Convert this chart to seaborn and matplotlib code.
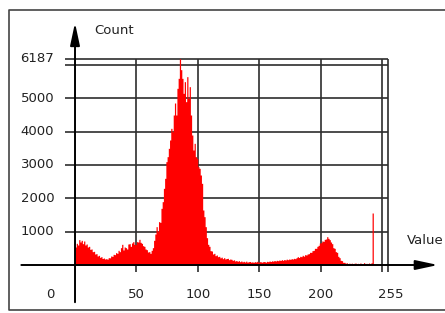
import numpy as np
import matplotlib
matplotlib.use("Agg")
import matplotlib.pyplot as plt
import seaborn as sns

sns.set_theme(style="white")
plt.rcParams['font.family'] = ['DejaVu Sans']

# histogram counts for grey values 0..255
counts = [
    540, 650, 600, 760, 690, 740, 640, 720, 600, 630, 540, 560, 470, 480, 400, 410,
    330, 340, 270, 290, 230, 250, 195, 210, 180, 190, 175, 220, 215, 270, 260, 320,
    310, 370, 350, 440, 400, 520, 620, 450, 540, 520, 480, 630, 640, 560, 660, 700,
    620, 610, 700, 690, 770, 680, 650, 580, 560, 480, 460, 390, 400, 350, 440, 520,
    740, 930, 1150, 1020, 1300, 1280, 1700, 1900, 2300, 2600, 3100, 3250, 3500, 3750, 4100, 4000,
    4500, 4860, 4500, 5300, 5600, 6187, 5860, 5600, 5150, 5500, 4900, 5650, 5000, 5350, 4500, 3900,
    3450, 3650, 3250, 3200, 2950, 2900, 2700, 2450, 1650, 1450, 1150, 820, 620, 560, 430, 420,
    330, 350, 280, 300, 250, 260, 215, 235, 190, 220, 180, 195, 200, 160, 180, 170,
    140, 155, 120, 135, 110, 130, 100, 120, 95, 110, 90, 115, 85, 100, 105, 85,
    95, 80, 100, 90, 110, 80, 100, 95, 85, 105, 100, 85, 110, 100, 120, 105,
    125, 115, 135, 120, 140, 130, 150, 135, 160, 140, 165, 150, 175, 160, 180, 170,
    190, 180, 200, 190, 220, 250, 225, 260, 250, 290, 265, 310, 300, 330, 340, 380,
    380, 430, 440, 500, 500, 560, 590, 660, 670, 720, 710, 770, 780, 850, 800, 760,
    690, 640, 520, 500, 400, 380, 260, 220, 140, 130, 80, 80, 55, 65, 45, 55,
    40, 55, 40, 50, 60, 35, 50, 45, 60, 40, 45, 70, 45, 50, 40, 60,
    45, 65, 1560, 0, 0, 0, 0, 0, 0, 0, 0, 0, 0, 0, 0, 0,
]
values = np.arange(256)

y_ticks = [1000, 2000, 3000, 4000, 5000, 6000, 6187]
y_labels = ["1000", "2000", "3000", "4000", "5000", "", "6187"]
x_ticks = [0, 50, 100, 150, 200, 250, 255]
x_labels = ["0", "50", "100", "150", "200", "", "255"]
max_count = 6187

fig = plt.figure(figsize=(4.45, 3.13), dpi=100)
ax = fig.add_axes([0, 0, 1, 1])
ax.set_xlim(-61.1, 301.4)
ax.set_ylim(-1440, 7950)
ax.set_axis_off()

grid_col = "#2e2e2e"
txt_col = "#222222"

# grid
ax.hlines(y_ticks, -8, 255, color=grid_col, lw=1.2, zorder=1)
ax.vlines(x_ticks[1:], -200, max_count, color=grid_col, lw=1.2, zorder=1)

# the histogram
sns.histplot(x=values, weights=counts, bins=256, binrange=(0, 256),
             element="step", fill=True, color="#ff0000", alpha=1,
             linewidth=0, ax=ax, zorder=2)
ax.set_axis_off()

# axes with arrows
ax.annotate("", xy=(0, 7350), xytext=(0, -1200),
            arrowprops=dict(arrowstyle="-|>,head_length=0.75,head_width=0.16",
                            color="black", lw=1.4, mutation_scale=18), zorder=4)
ax.annotate("", xy=(298, 0), xytext=(-46, 0),
            arrowprops=dict(arrowstyle="-|>,head_length=0.75,head_width=0.16",
                            color="black", lw=1.4, mutation_scale=18), zorder=4)

# tick labels
for v, lab in zip(y_ticks, y_labels):
    if lab:
        ax.text(-17, v, lab, ha="right", va="center", fontsize=9.5, color=txt_col)
for v, lab in zip(x_ticks, x_labels):
    if lab:
        xx = -20 if v == 0 else (v + 2 if v == 255 else v)
        ax.text(xx, -900, lab, ha="center", va="center", fontsize=9.5, color=txt_col)

ax.text(16, 7020, "Count", ha="left", va="center", fontsize=9.5, color=txt_col)
ax.text(270.5, 750, "Value", ha="left", va="center", fontsize=9.5, color=txt_col)

# frame around the widget
ax.plot([310, -53.8, -53.8, 310], [7650, 7650, -1350, -1350],
        color="#444444", lw=1.2, clip_on=False, zorder=5)

fig.savefig("out.png", dpi=100)
